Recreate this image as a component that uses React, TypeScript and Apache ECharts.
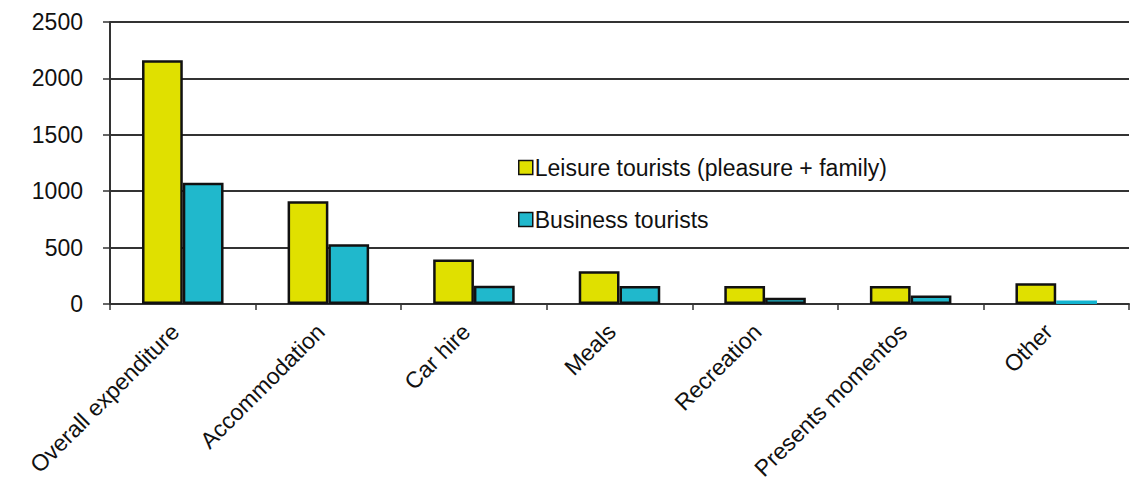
import React, { useEffect, useRef } from "react";
import * as echarts from "echarts";

const categories = [
  "Overall expenditure",
  "Accommodation",
  "Car hire",
  "Meals",
  "Recreation",
  "Presents momentos",
  "Other",
];
const leisure = [2160, 910, 395, 290, 160, 160, 185];
const business = [1075, 530, 162, 160, 55, 75, 32];
const seriesNames = ["Leisure tourists (pleasure + family)", "Business tourists"];
const yTicks = { min: 0, max: 2500, interval: 500 };

const FONT = "'Liberation Sans Narrow', 'Liberation Sans', Arial, sans-serif";

export default function App() {
  const ref = useRef<HTMLDivElement>(null);
  useEffect(() => {
    const chart = echarts.init(ref.current!, null, { renderer: "svg" });
    chart.setOption({
      animation: false,
      backgroundColor: "#ffffff",
      textStyle: { fontFamily: FONT },
      grid: { left: 110, right: 13, top: 22, bottom: 184, containLabel: false },
      legend: {
        orient: "vertical",
        left: 513,
        top: 151,
        itemWidth: 14,
        itemHeight: 14,
        itemGap: 29,
        icon: "rect",
        itemStyle: { borderColor: "#111", borderWidth: 1.5 },
        textStyle: { fontSize: 23, color: "#111", fontFamily: FONT, padding: [0, 0, 0, -3] },
        data: seriesNames,
      },
      xAxis: {
        type: "category",
        data: categories,
        boundaryGap: true,
        axisLine: { lineStyle: { color: "#333", width: 2 } },
        axisTick: { show: true, interval: 0, length: 6, lineStyle: { color: "#333", width: 1.5 } },
        axisLabel: {
          interval: 0,
          rotate: 45,
          fontSize: 23,
          color: "#111",
          margin: 16,
          padding: [0, 11, 0, 0],
          fontFamily: FONT,
        },
      },
      yAxis: {
        type: "value",
        min: yTicks.min,
        max: yTicks.max,
        interval: yTicks.interval,
        axisLine: { show: true, lineStyle: { color: "#333", width: 2 } },
        axisTick: { show: true, length: 7, lineStyle: { color: "#333", width: 1.5 } },
        axisLabel: {
          fontSize: 23,
          color: "#111",
          margin: 27,
          fontFamily: FONT,
          formatter: (v: number) => String(v),
        },
        splitLine: { show: true, lineStyle: { color: "#333", width: 2 } },
      },
      series: [
        {
          name: seriesNames[0],
          type: "bar",
          data: leisure,
          barGap: "0%",
          barCategoryGap: "44%",
          itemStyle: { color: "#e0e000", borderColor: "#111", borderWidth: 2.5 },
        },
        {
          name: seriesNames[1],
          type: "bar",
          data: business.map((v, i) =>
            i === business.length - 1
              ? { value: v, itemStyle: { borderWidth: 0, color: "#12b4d0" } }
              : v
          ),
          itemStyle: { color: "#20b8cc", borderColor: "#111", borderWidth: 2.5 },
        },
      ],
    });
    return () => chart.dispose();
  }, []);
  return (
    <div
      ref={ref}
      style={{ position: "fixed", left: 0, top: 0, width: 1142, height: 488 }}
    />
  );
}
